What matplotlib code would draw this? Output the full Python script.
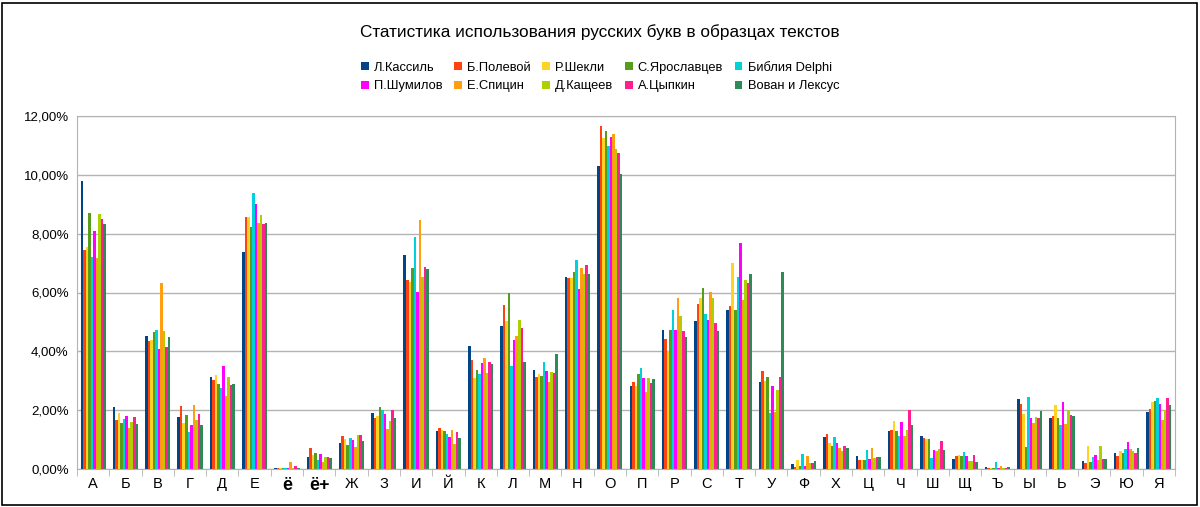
import matplotlib
matplotlib.use("Agg")
import matplotlib.pyplot as plt
import numpy as np
from matplotlib.ticker import FuncFormatter, FixedLocator
from matplotlib.patches import Rectangle

plt.rcParams['font.family'] = ['Liberation Sans', 'DejaVu Sans']

title = "Статистика использования русских букв в образцах текстов"
letters = ["А", "Б", "В", "Г", "Д", "Е", "ё", "ё+", "Ж", "З", "И", "Й", "К", "Л", "М",
           "Н", "О", "П", "Р", "С", "Т", "У", "Ф", "Х", "Ц", "Ч", "Ш", "Щ", "Ъ", "Ы",
           "Ь", "Э", "Ю", "Я"]
series_names = ["Л.Кассиль", "Б.Полевой", "Р.Шекли", "С.Ярославцев", "Библия Delphi",
                "П.Шумилов", "Е.Спицин", "Д.Кащеев", "А.Цыпкин", "Вован и Лексус"]
colors = ["#004586", "#ff420e", "#ffd320", "#579d1c", "#00d2dc",
          "#ff00ff", "#ff9e0e", "#aecf00", "#ff1f8f", "#2e8b57"]

kassil    = [9.80, 2.11, 4.52, 1.77, 3.12, 7.36, 0.03, 0.41, 0.87, 1.91, 7.26, 1.30, 4.18, 4.86, 3.38, 6.54, 10.29, 2.81, 4.73, 5.02, 5.39, 2.95, 0.16, 1.10, 0.45, 1.30, 1.11, 0.35, 0.06, 2.37, 1.74, 0.28, 0.55, 1.94]
polevoy   = [7.43, 1.68, 4.34, 2.13, 3.03, 8.57, 0.03, 0.71, 1.12, 1.72, 6.43, 1.38, 3.72, 5.58, 3.14, 6.48, 11.67, 2.95, 4.43, 5.60, 5.54, 3.32, 0.07, 1.20, 0.29, 1.31, 1.04, 0.45, 0.02, 2.22, 1.80, 0.22, 0.45, 2.03]
shekli    = [7.55, 1.90, 4.37, 1.57, 3.20, 8.57, 0.02, 0.49, 1.03, 1.81, 6.37, 1.34, 3.09, 5.02, 3.22, 6.50, 11.24, 2.81, 4.02, 5.81, 7.00, 2.98, 0.31, 0.87, 0.32, 1.63, 1.02, 0.46, 0.02, 1.88, 2.18, 0.78, 0.62, 2.28]
yaroslav  = [8.69, 1.56, 4.66, 1.83, 2.90, 8.22, 0.03, 0.55, 0.82, 2.12, 6.83, 1.30, 3.36, 6.00, 3.15, 6.69, 11.50, 3.22, 4.74, 6.15, 5.39, 3.12, 0.11, 0.77, 0.29, 1.30, 1.01, 0.43, 0.02, 0.76, 1.72, 0.24, 0.54, 2.30]
bible     = [7.20, 1.71, 4.72, 1.25, 2.76, 9.39, 0.03, 0.29, 1.05, 2.02, 7.90, 1.19, 3.23, 3.49, 3.63, 7.10, 10.97, 3.43, 5.41, 5.26, 6.53, 1.91, 0.51, 1.09, 0.63, 1.12, 0.37, 0.59, 0.25, 2.45, 1.49, 0.41, 0.69, 2.40]
shumilov  = [8.08, 1.80, 4.08, 1.49, 3.49, 9.00, 0.03, 0.52, 1.00, 1.88, 6.02, 1.10, 3.60, 4.39, 3.34, 6.11, 11.30, 3.09, 4.73, 5.07, 7.68, 2.81, 0.11, 0.87, 0.35, 1.61, 0.63, 0.43, 0.05, 1.72, 2.29, 0.48, 0.91, 2.22]
spitsin   = [7.18, 1.40, 6.32, 2.17, 2.48, 8.37, 0.25, 0.23, 0.75, 1.35, 8.47, 1.32, 3.77, 4.53, 2.95, 6.83, 11.39, 2.63, 5.83, 6.01, 5.75, 1.95, 0.45, 0.70, 0.72, 1.11, 0.62, 0.28, 0.09, 1.56, 1.53, 0.32, 0.69, 1.66]
kashcheev = [8.66, 1.61, 4.70, 1.65, 3.12, 8.63, 0.03, 0.41, 1.15, 1.62, 6.54, 0.84, 3.26, 5.07, 3.29, 6.63, 10.89, 3.10, 5.21, 5.80, 6.41, 2.69, 0.20, 0.60, 0.38, 1.34, 0.67, 0.28, 0.03, 1.78, 2.02, 0.78, 0.62, 1.99]
tsypkin   = [8.49, 1.78, 4.14, 1.87, 2.86, 8.33, 0.09, 0.42, 1.15, 2.02, 6.85, 1.27, 3.63, 4.79, 3.26, 6.95, 10.75, 2.92, 4.69, 4.98, 6.32, 3.12, 0.20, 0.77, 0.41, 2.02, 0.96, 0.46, 0.02, 1.74, 1.85, 0.34, 0.54, 2.40]
vovan     = [8.33, 1.52, 4.48, 1.49, 2.89, 8.36, 0.03, 0.36, 0.95, 1.72, 6.79, 1.06, 3.57, 3.65, 3.91, 6.63, 10.04, 3.06, 4.48, 4.70, 6.63, 6.70, 0.28, 0.70, 0.41, 1.49, 0.66, 0.24, 0.07, 1.97, 1.79, 0.35, 0.70, 2.18]

series = [kassil, polevoy, shekli, yaroslav, bible, shumilov, spitsin, kashcheev, tsypkin, vovan]

fig = plt.figure(figsize=(12, 5.07), dpi=100)
ax = fig.add_axes([77/1200, 1-469/507, (1175-77)/1200, (469-116)/507])

n = len(series)
x = np.arange(len(letters))
group_w = 0.78
bw = group_w / n
handles = []
for i, (vals, c, name) in enumerate(zip(series, colors, series_names)):
    pos = x - group_w/2 + bw*(i+0.5)
    b = ax.bar(pos, vals, width=bw, color=c, label=name, linewidth=0)
    handles.append(b)

ax.set_xlim(-0.5, len(letters)-0.5)
ax.set_ylim(0, 12)
ax.set_yticks(np.arange(0, 12.01, 2))
ax.yaxis.set_major_formatter(FuncFormatter(lambda v, p: f"{v:.2f}%".replace(".", ",")))
ax.grid(axis='y', color='#b3b3b3', linewidth=1)
ax.set_axisbelow(True)
for s in ax.spines.values():
    s.set_color('#b3b3b3')
ax.tick_params(axis='y', length=0, labelsize=9.5, pad=6)

ax.set_xticks(x)
ax.set_xticklabels(letters, fontsize=10.5)
for lbl in ax.get_xticklabels():
    if lbl.get_text().startswith("ё"):
        lbl.set_fontweight('bold')
        lbl.set_fontsize(13)
ax.tick_params(axis='x', length=0, pad=6)
ax.xaxis.set_minor_locator(FixedLocator(np.arange(-0.5, len(letters), 1)))
ax.tick_params(axis='x', which='minor', length=5, color='#b3b3b3')

fig.text(0.5, 1-32/507, title, ha='center', va='center', fontsize=12.4)

order = [0, 5, 1, 6, 2, 7, 3, 8, 4, 9]
leg = fig.legend([handles[i] for i in order], [series_names[i] for i in order],
                 ncol=5, loc='center', bbox_to_anchor=(0.5, 1-76.5/507),
                 frameon=False, fontsize=9.3, handlelength=0.6, handleheight=0.6,
                 handletextpad=0.4, columnspacing=0.9, labelspacing=0.5)

fig.patches.append(Rectangle((2/1200, 2/507), 1195/1200, 502/507, transform=fig.transFigure,
                             fill=False, edgecolor='black', linewidth=1.2))

fig.savefig("out.png", dpi=100)
